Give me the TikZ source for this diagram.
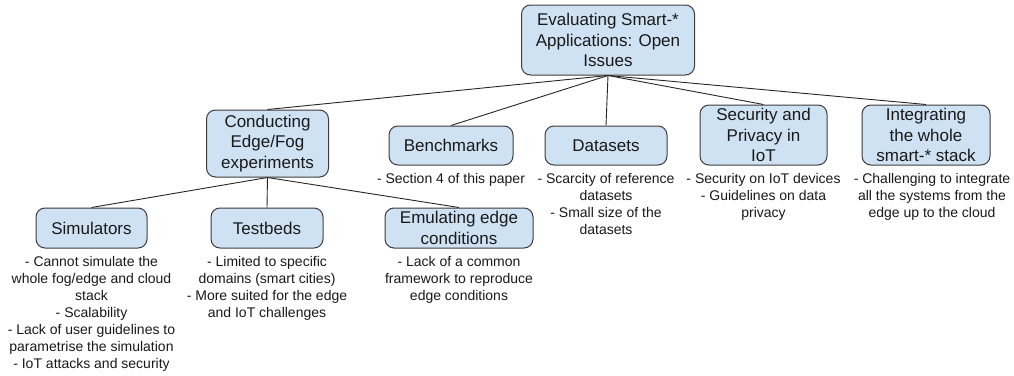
\documentclass[tikz,border=0pt]{standalone}
\usepackage{fontspec}
\setmainfont{Liberation Sans}
\definecolor{boxfill}{HTML}{CFE2F3}
\definecolor{boxline}{HTML}{3C3C3C}
\definecolor{linkcol}{HTML}{262626}
\begin{document}
\begin{tikzpicture}[x=1pt,y=-1pt,
  box/.style={draw=boxline, fill=boxfill, rounded corners=9pt, line width=1pt,
    align=center, font=\fontsize{17}{20.3}\selectfont, inner sep=0pt, text=black!90},
  desc/.style={anchor=north, align=center, font=\fontsize{14}{17}\selectfont,
    inner sep=0pt, text=black!90},
  link/.style={draw=linkcol, line width=0.9pt}]
\useasboundingbox (0,0) rectangle (1014,375);

% level 1
\node[box, minimum width=173pt, minimum height=70pt] (root) at (608,40)
  {Evaluating Smart-*\\Applications: Open\\Issues};

% level 2
\node[box, minimum width=122pt, minimum height=67pt] (conduct) at (267.5,143.5)
  {Conducting\\Edge/Fog\\experiments};
\node[box, minimum width=124pt, minimum height=39pt] (bench) at (451,145.5)
  {Benchmarks};
\node[box, minimum width=122pt, minimum height=39pt] (data) at (606,145.5)
  {Datasets};
\node[box, minimum width=127pt, minimum height=60pt] (sec) at (763.5,135)
  {Security and\\Privacy in\\IoT};
\node[box, minimum width=128pt, minimum height=60pt] (integ) at (926,135)
  {Integrating\\the whole\\smart-* stack};

% level 3
\node[box, minimum width=111pt, minimum height=40pt] (sim) at (91.5,228)
  {Simulators};
\node[box, minimum width=112pt, minimum height=40pt] (test) at (267,228)
  {Testbeds};
\node[box, minimum width=148pt, minimum height=40pt] (emu) at (459,228)
  {Emulating edge\\conditions};

% descriptions
\node[desc] (benchd) at (451,173) {- Section 4 of this paper};
\node[desc] (datad) at (606,173) {- Scarcity of reference\\datasets\\- Small size of the\\datasets};
\node[desc] (secd) at (763.5,173) {- Security on IoT devices\\- Guidelines on data\\privacy};
\node[desc] (integd) at (932,173) {- Challenging to integrate\\all the systems from the\\edge up to the cloud};
\node[desc] (simd) at (91.5,256) {- Cannot simulate the\\whole fog/edge and cloud\\stack\\- Scalability\\- Lack of user guidelines to\\parametrise the simulation\\- IoT attacks and security};
\node[desc] (testd) at (267,256) {- Limited to specific\\domains (smart cities)\\- More suited for the edge\\and IoT challenges};
\node[desc] (emud) at (459,256) {- Lack of a common\\framework to reproduce\\edge conditions};

% connectors
\foreach \c in {conduct,bench,data,sec,integ}
  \draw[link] (root.south) -- (\c.north);
\foreach \c in {sim,test,emu}
  \draw[link] (conduct.south) -- (\c.north);
\end{tikzpicture}
\end{document}
